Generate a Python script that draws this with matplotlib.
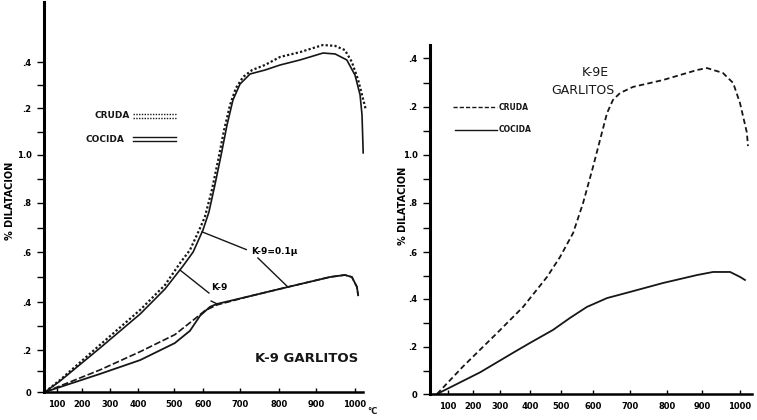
import numpy as np
import matplotlib
matplotlib.use("Agg")
import matplotlib.pyplot as plt
from matplotlib.lines import Line2D

# ---------------- data ----------------
# Left panel: K-9 GARLITOS  (temperature °C, % dilatación)
k9_cruda_a_t = [52, 112, 264, 406, 475, 521, 555, 590, 605, 624, 641, 657, 673, 689,
                708, 731, 764, 803, 857, 918, 949, 974, 992, 1008, 1018, 1028]
k9_cruda_a_d = [0, 0.057, 0.221, 0.367, 0.468, 0.556, 0.608, 0.698, 0.743, 0.854, 0.979,
                1.106, 1.213, 1.287, 1.335, 1.365, 1.387, 1.422, 1.443, 1.474, 1.470,
                1.452, 1.400, 1.322, 1.257, 1.191]
k9_cruda_b_t = [52, 112, 264, 406, 475, 531, 566, 600, 616, 632, 649, 665, 681, 700,
                726, 764, 803, 857, 918, 949, 979, 1000, 1013, 1018, 1021]
k9_cruda_b_d = [0, 0.052, 0.208, 0.350, 0.452, 0.544, 0.600, 0.690, 0.763, 0.874, 1.000,
                1.128, 1.235, 1.304, 1.348, 1.365, 1.387, 1.409, 1.439, 1.435, 1.409,
                1.343, 1.257, 1.170, 1.009]
k9_cocida_a_t = [52, 264, 406, 503, 572, 605, 638, 727, 824, 936, 974, 992, 1005, 1008]
k9_cocida_a_d = [0, 0.105, 0.192, 0.264, 0.330, 0.364, 0.388, 0.424, 0.460, 0.500, 0.508,
                 0.500, 0.460, 0.427]
k9_cocida_b_t = [52, 264, 406, 503, 555, 590, 619, 638, 727, 824, 936, 974, 992, 1005, 1008]
k9_cocida_b_d = [0, 0.086, 0.152, 0.229, 0.280, 0.343, 0.380, 0.392, 0.424, 0.460, 0.500,
                 0.508, 0.500, 0.460, 0.427]

# Right panel: K-9E GARLITOS
k9e_cruda_t = [56, 160, 289, 377, 455, 497, 538, 569, 600, 619, 638, 654, 673, 708,
               789, 886, 913, 955, 982, 1000, 1018, 1021]
k9e_cruda_d = [0, 0.117, 0.258, 0.367, 0.494, 0.579, 0.678, 0.800, 0.950, 1.063, 1.175,
               1.229, 1.257, 1.282, 1.310, 1.351, 1.359, 1.339, 1.298, 1.216, 1.094, 1.037]
k9e_cocida_t = [56, 226, 343, 400, 474, 528, 581, 638, 700, 789, 886, 929, 974, 1000, 1013]
k9e_cocida_d = [0, 0.092, 0.175, 0.217, 0.271, 0.321, 0.367, 0.404, 0.430, 0.468, 0.502,
                0.515, 0.515, 0.494, 0.481]

x_ticks = [100, 200, 300, 400, 500, 600, 700, 800, 900, 1000]
x_ticklabels = ["100", "200", "300", "400", "500", "600", "700", "800", "900", "1000"]
y_ticks = [0, 0.2, 0.4, 0.6, 0.8, 1.0, 1.2, 1.4]
y_ticklabels = ["0", ".2", ".4", ".6", ".8", "1.0", ".2", ".4"]
y_minor = [0.1, 0.3, 0.5, 0.7, 0.9, 1.1, 1.3]

# ---------------- layout (hand-drawn, unevenly spaced axes) ----------------
W, H = 757, 420
L_X_PIX = [57, 82, 110, 138, 174, 203, 240, 279, 316, 355]
L_Y_PIX = [392, 350, 302, 252, 203, 155, 108, 62]
R_X_PIX = [448, 473, 500, 530, 561, 593, 630, 667, 702, 740]
R_Y_PIX = [394, 347, 299, 252, 203, 155, 107, 58]


def piecewise(vals, pix):
    a = np.asarray(vals, float)
    b = np.asarray(pix, float)

    def _map(x, a, b):
        x = np.asarray(x, float)
        y = np.interp(x, a, b)
        s0 = (b[1] - b[0]) / (a[1] - a[0])
        s1 = (b[-1] - b[-2]) / (a[-1] - a[-2])
        y = np.where(x < a[0], b[0] + (x - a[0]) * s0, y)
        y = np.where(x > a[-1], b[-1] + (x - a[-1]) * s1, y)
        return y

    return (lambda x: _map(x, a, b)), (lambda p: _map(p, b, a))


def make_axes(fig, xpix, ypix, box):
    x0, x1, ytop, ybot = box
    ax = fig.add_axes([x0 / W, (H - ybot) / H, (x1 - x0) / W, (ybot - ytop) / H])
    fx, ix = piecewise(x_ticks, xpix)
    fy, iy = piecewise(y_ticks, [H - p for p in ypix])
    ax.set_xscale("function", functions=(fx, ix))
    ax.set_yscale("function", functions=(fy, iy))
    ax.set_xlim(float(ix(x0)), float(ix(x1)))
    ax.set_ylim(float(iy(H - ybot)), float(iy(H - ytop)))
    for s in ("top", "right"):
        ax.spines[s].set_visible(False)
    ax.spines["left"].set_linewidth(2.2)
    ax.spines["bottom"].set_linewidth(1.8)
    ax.set_xticks(x_ticks, labels=x_ticklabels)
    ax.set_yticks(y_ticks, labels=y_ticklabels)
    ax.set_yticks(y_minor, minor=True)
    ax.set_xticks([], minor=True)
    ax.tick_params(axis="x", which="major", direction="in", length=3, width=1,
                   labelsize=6, pad=6)
    ax.tick_params(axis="y", which="both", direction="out", length=5, width=1,
                   labelsize=6, pad=4)
    for lab in ax.get_xticklabels() + ax.get_yticklabels():
        lab.set_fontweight("bold")
    ax.set_facecolor("none")
    return ax


INK = "#161616"
fig = plt.figure(figsize=(W / 100, H / 100), dpi=100)
fig.patch.set_facecolor("white")

# ---------------- left panel ----------------
axL = make_axes(fig, L_X_PIX, L_Y_PIX, (44, 363, 2, 392))
axL.plot(k9_cruda_a_t, k9_cruda_a_d, color=INK, lw=1.6, ls=(0, (1, 1)), clip_on=False)
axL.plot(k9_cruda_b_t, k9_cruda_b_d, color=INK, lw=1.2, clip_on=False)
axL.plot(k9_cocida_a_t, k9_cocida_a_d, color=INK, lw=1.2, ls=(0, (4, 1.5)), clip_on=False)
axL.plot(k9_cocida_b_t, k9_cocida_b_d, color=INK, lw=1.3, clip_on=False)
axL.set_ylabel("% DILATACION", fontsize=7, fontweight="bold")
axL.yaxis.set_label_coords(-29 / 319, 0.49)

# annotations with leader lines
axL.text(787, 0.60, "K-9=0.1μ", fontsize=6.5, fontweight="bold", ha="center", va="center")
axL.text(643, 0.46, "K-9", fontsize=6.5, fontweight="bold", ha="center", va="center")
for (tx, ty), (ct, ct_t, ct_d) in [
        ((716, 0.61), (597, k9_cruda_b_t, k9_cruda_b_d)),
        ((746, 0.576), (824, k9_cocida_b_t, k9_cocida_b_d)),
        ((616, 0.436), (521, k9_cruda_b_t, k9_cruda_b_d)),
        ((622, 0.404), (638, k9_cocida_b_t, k9_cocida_b_d))]:
    axL.plot([tx, ct], [ty, np.interp(ct, ct_t, ct_d)], color=INK, lw=1.0)

fig.text(307 / W, 1 - 358 / H, "K-9 GARLITOS", fontsize=9.5, fontweight="bold",
         ha="center", va="center", color=INK)
fig.text(372 / W, 1 - 412 / H, "°C", fontsize=6, fontweight="bold", ha="center",
         va="center", color=INK)

# left legend (label first, double-line sample)
fig.text(130 / W, 1 - 116 / H, "CRUDA", fontsize=6.5, fontweight="bold", ha="right",
         va="center", color=INK)
fig.text(124 / W, 1 - 140 / H, "COCIDA", fontsize=6.5, fontweight="bold", ha="right",
         va="center", color=INK)
for dy, ls in [(114, (0, (1, 1))), (118, (0, (1, 1))), (137, "-"), (141, "-")]:
    fig.add_artist(Line2D([133 / W, 176 / W], [1 - dy / H, 1 - dy / H],
                          transform=fig.transFigure, color=INK, lw=1.0, ls=ls))

# ---------------- right panel ----------------
axR = make_axes(fig, R_X_PIX, R_Y_PIX, (430, 752, 45, 394))
axR.plot(k9e_cruda_t, k9e_cruda_d, color=INK, lw=1.3, ls=(0, (3, 1.8)), clip_on=False)
axR.plot(k9e_cocida_t, k9e_cocida_d, color=INK, lw=1.3, clip_on=False)
axR.set_ylabel("% DILATACION", fontsize=7, fontweight="bold")
axR.yaxis.set_label_coords(-22 / 322, 0.54)

fig.text(595 / W, 1 - 73 / H, "K-9E", fontsize=9, ha="center", va="center", color=INK)
fig.text(583 / W, 1 - 90 / H, "GARLITOS", fontsize=9, ha="center", va="center", color=INK)

fig.add_artist(Line2D([453 / W, 497 / W], [1 - 107 / H, 1 - 107 / H],
                      transform=fig.transFigure, color=INK, lw=1.0, ls=(0, (3, 1.5))))
fig.add_artist(Line2D([455 / W, 497 / W], [1 - 130 / H, 1 - 130 / H],
                      transform=fig.transFigure, color=INK, lw=1.0))
fig.text(499 / W, 1 - 107 / H, "CRUDA", fontsize=5.5, fontweight="bold", ha="left",
         va="center", color=INK)
fig.text(499 / W, 1 - 130 / H, "COCIDA", fontsize=5.5, fontweight="bold", ha="left",
         va="center", color=INK)

fig.savefig("out.png", dpi=100, facecolor="white")
